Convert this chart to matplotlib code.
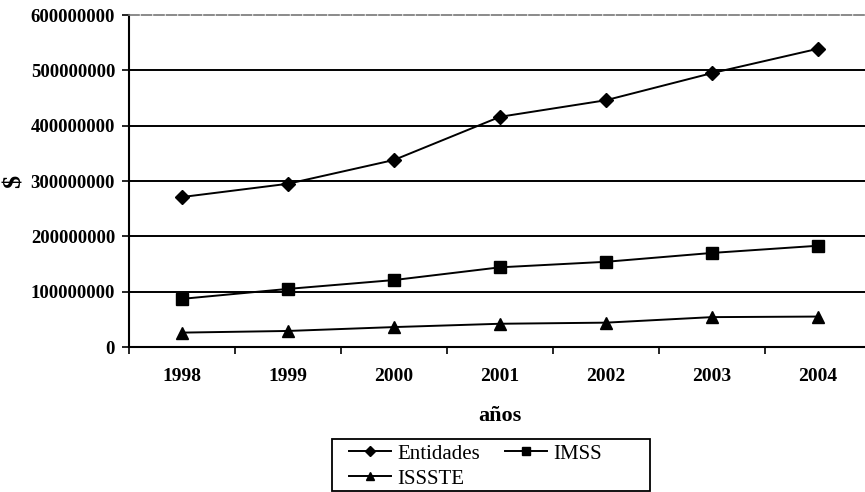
import matplotlib
matplotlib.use("Agg")
import matplotlib.pyplot as plt
from matplotlib.patches import Rectangle
from matplotlib.ticker import FixedLocator, NullFormatter

# Annual amounts (pesos) by institution
years = ["1998", "1999", "2000", "2001", "2002", "2003", "2004"]
entidades = [271e6, 295e6, 338e6, 416e6, 446e6, 495e6, 539e6]
imss = [87e6, 105e6, 121e6, 144e6, 154e6, 170e6, 183e6]
issste = [26e6, 29e6, 36e6, 42e6, 44e6, 54e6, 55e6]
y_ticks = [0, 100000000, 200000000, 300000000, 400000000, 500000000, 600000000]

serif = ["Liberation Serif", "DejaVu Serif"]
plt.rcParams["font.family"] = serif

W, H = 865, 492
fig = plt.figure(figsize=(W / 100, H / 100), dpi=100)
left, right, bottom, top = 129, 871, 347, 15
ax = fig.add_axes([left / W, (H - bottom) / H, (right - left) / W, (bottom - top) / H])

x = list(range(len(years)))
ax.set_xlim(-0.5, len(years) - 0.5)
ax.set_ylim(0, 600000000)

# horizontal gridlines
for v in y_ticks[1:-1]:
    ax.axhline(v, color="black", lw=1.4, zorder=1)

line_kw = dict(color="black", lw=1.4, zorder=3)
h_ent, = ax.plot(x, entidades, marker="D", ms=7, label="Entidades", **line_kw)
h_imss, = ax.plot(x, imss, marker="s", ms=8, label="IMSS", **line_kw)
h_iss, = ax.plot(x, issste, marker="^", ms=8.5, label="ISSSTE", **line_kw)

ax.set_yticks(y_ticks)
ax.set_yticklabels([str(v) for v in y_ticks], fontweight="bold", fontsize=13.5)
ax.tick_params(axis="y", direction="out", length=5, width=1.2, pad=5)

ax.set_xticks(x)
ax.set_xticklabels(years, fontweight="bold", fontsize=14)
ax.tick_params(axis="x", which="major", length=0, pad=15)
ax.xaxis.set_minor_locator(FixedLocator([i - 0.5 for i in range(len(years) + 1)]))
ax.xaxis.set_minor_formatter(NullFormatter())
ax.tick_params(axis="x", which="minor", direction="out", length=5, width=1.2)

for s in ["left", "bottom"]:
    ax.spines[s].set_linewidth(1.5)
ax.spines["top"].set_color("#777777")
ax.spines["top"].set_linewidth(1.2)
ax.spines["top"].set_linestyle((0, (6, 1.5)))
ax.spines["right"].set_visible(False)

ax.set_xlabel("años", fontweight="bold", fontsize=16, labelpad=15)
fig.text(14 / W, 1 - 181 / H, "$", rotation=90, fontsize=19, fontweight="bold",
         ha="center", va="center")

# legend box, wider than its entries
fig.patches.append(Rectangle((332 / W, 1 - 491 / H), (650 - 332) / W, (491 - 439) / H,
                             transform=fig.transFigure, fill=False,
                             edgecolor="black", lw=1.3))

# column-first filling: Entidades / IMSS on the first row, ISSSTE below
leg = fig.legend([h_ent, h_iss, h_imss], ["Entidades", "ISSSTE", "IMSS"],
                 loc="upper left", bbox_to_anchor=(345 / W, 1 - 440 / H),
                 borderaxespad=0, ncol=2, frameon=False,
                 fontsize=15, handlelength=2.0, handletextpad=0.3,
                 columnspacing=1.2, labelspacing=0.25, borderpad=0.2,
                 markerscale=0.75)

fig.savefig("out.png", dpi=100, facecolor="white")
